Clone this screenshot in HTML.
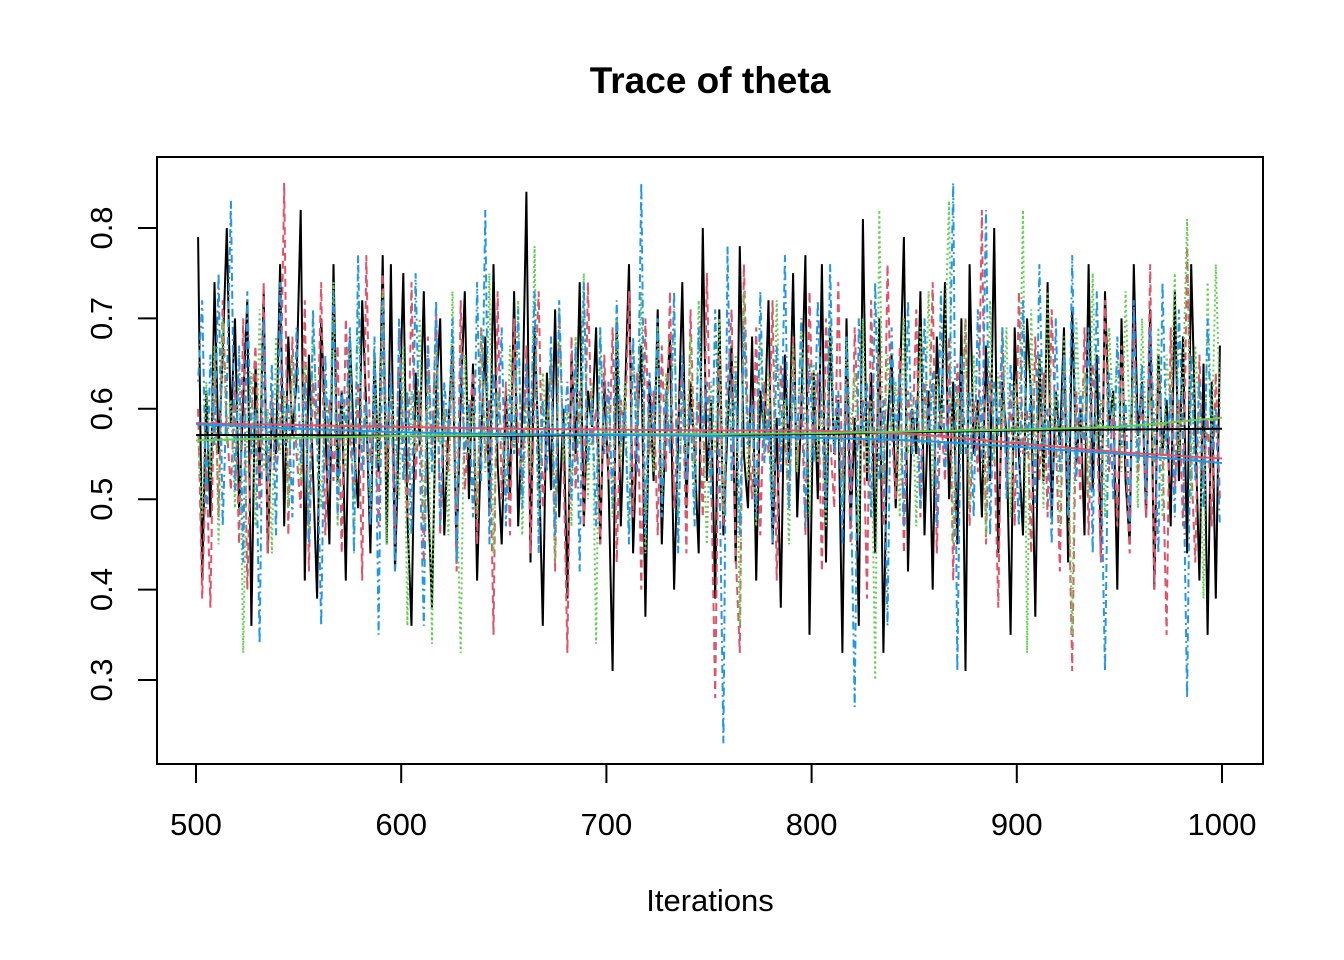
<!DOCTYPE html>
<html><head><meta charset="utf-8"><style>
html,body{margin:0;padding:0;background:#fff;}
svg{display:block;font-family:"Liberation Sans",Arial,sans-serif;}
</style></head><body>
<svg id="chart" width="1344" height="960" viewBox="0 0 1344 960" xmlns="http://www.w3.org/2000/svg">
<rect width="1344" height="960" fill="#fff"/>
<text x="710" y="93" text-anchor="middle" font-size="37" font-weight="bold">Trace of theta</text>
<text x="710" y="911" text-anchor="middle" font-size="31">Iterations</text>
<g id="marks"></g>
<g id="axes"></g>
<rect x="157" y="157" width="1106" height="607" fill="none" stroke="#000" stroke-width="2"/>
</svg>
<script>
const chainBlack=[.79,.41,.62,.48,.74,.55,.66,.80,.58,.70,.49,.61,.72,.36,.65,.52,.73,.44,.60,.55,.76,.47,.68,.57,.63,
.82,.41,.66,.53,.39,.70,.58,.45,.76,.52,.62,.41,.68,.56,.49,.72,.60,.44,.66,.53,.77,.45,.76,.42,.58,
.75,.48,.36,.64,.56,.73,.51,.38,.62,.70,.46,.58,.67,.44,.61,.73,.50,.65,.41,.57,.68,.49,.76,.54,.45,
.62,.50,.73,.47,.59,.84,.43,.69,.55,.36,.64,.51,.71,.48,.60,.39,.66,.55,.74,.47,.62,.58,.69,.45,.63,
.52,.31,.70,.47,.61,.76,.44,.58,.67,.37,.63,.52,.71,.45,.60,.68,.40,.57,.74,.49,.63,.55,.44,.80,.52,
.61,.39,.71,.46,.58,.67,.43,.78,.55,.49,.68,.41,.62,.57,.72,.45,.59,.38,.66,.54,.75,.48,.60,.77,.35,
.64,.50,.76,.43,.69,.55,.61,.33,.70,.47,.59,.36,.81,.52,.64,.44,.70,.33,.58,.66,.49,.62,.79,.42,.60,
.55,.73,.46,.62,.40,.68,.57,.74,.50,.63,.45,.70,.31,.76,.55,.61,.48,.67,.52,.80,.44,.63,.57,.35,.69,
.55,.46,.70,.61,.37,.66,.52,.74,.48,.62,.56,.69,.43,.71,.54,.60,.46,.76,.51,.66,.44,.73,.58,.62,.40,
.70,.52,.45,.76,.57,.63,.48,.71,.40,.66,.55,.61,.47,.73,.52,.68,.44,.76,.58,.41,.65,.35,.63,.39,.67];
const chainRed=[.60,.39,.55,.38,.66,.48,.72,.58,.51,.63,.45,.70,.40,.59,.67,.49,.74,.44,.62,.53,.57,.85,.46,.68,.55,
.49,.72,.42,.63,.56,.74,.46,.61,.52,.67,.44,.70,.57,.50,.63,.41,.77,.54,.60,.47,.75,.53,.64,.45,.69,
.57,.48,.74,.52,.62,.43,.68,.55,.71,.46,.60,.53,.66,.42,.72,.51,.58,.64,.45,.69,.54,.61,.35,.73,.50,
.63,.46,.70,.56,.52,.67,.44,.62,.73,.49,.58,.65,.42,.71,.55,.33,.68,.51,.62,.47,.74,.56,.60,.45,.66,
.52,.69,.43,.61,.57,.73,.48,.64,.40,.70,.55,.62,.46,.67,.53,.73,.49,.59,.65,.44,.71,.54,.61,.48,.75,
.53,.28,.66,.47,.62,.71,.44,.33,.76,.58,.50,.69,.46,.63,.55,.72,.41,.65,.57,.49,.68,.53,.62,.46,.73,
.55,.64,.42,.70,.57,.49,.74,.52,.63,.45,.69,.56,.61,.39,.72,.53,.66,.47,.76,.58,.50,.67,.44,.62,.55,
.71,.48,.63,.56,.74,.44,.60,.52,.68,.41,.65,.57,.70,.47,.61,.53,.82,.45,.64,.56,.38,.69,.51,.62,.47,
.73,.55,.60,.44,.68,.52,.64,.48,.71,.57,.42,.66,.54,.31,.62,.50,.69,.46,.65,.58,.43,.72,.53,.60,.47,
.67,.55,.44,.71,.52,.62,.48,.76,.40,.64,.56,.35,.69,.51,.61,.47,.78,.54,.43,.66,.52,.59,.47,.64,.50];
const chainGreen=[.57,.48,.63,.52,.67,.45,.70,.56,.61,.49,.66,.33,.58,.64,.47,.71,.53,.60,.44,.68,.55,.62,.49,.66,.57,
.52,.65,.46,.70,.58,.49,.63,.55,.74,.47,.61,.53,.68,.44,.72,.56,.60,.48,.66,.54,.73,.45,.63,.57,.50,
.67,.36,.62,.55,.70,.47,.64,.34,.68,.56,.60,.46,.73,.52,.33,.66,.55,.61,.48,.69,.53,.75,.44,.62,.57,
.50,.67,.55,.72,.46,.61,.53,.78,.48,.64,.57,.66,.43,.71,.54,.60,.47,.68,.56,.75,.50,.63,.34,.69,.55,
.61,.48,.70,.54,.63,.46,.67,.57,.73,.44,.60,.53,.69,.50,.64,.56,.71,.47,.62,.55,.68,.49,.72,.58,.45,
.63,.55,.70,.48,.61,.57,.66,.36,.73,.52,.60,.47,.68,.55,.64,.49,.72,.56,.61,.45,.67,.53,.70,.58,.48,
.65,.54,.62,.47,.71,.55,.60,.49,.68,.57,.64,.46,.70,.53,.61,.30,.82,.52,.66,.57,.63,.48,.70,.55,.62,
.47,.69,.56,.73,.51,.64,.58,.68,.83,.45,.62,.55,.70,.49,.66,.57,.61,.46,.72,.54,.64,.58,.69,.48,.63,
.56,.82,.33,.71,.54,.66,.49,.73,.58,.62,.47,.68,.55,.35,.70,.57,.64,.50,.75,.56,.61,.48,.69,.59,.66,
.53,.73,.58,.64,.49,.70,.57,.62,.54,.69,.48,.66,.59,.75,.55,.63,.81,.50,.67,.58,.39,.74,.56,.76,.60];
const chainBlue=[.63,.72,.49,.66,.56,.75,.47,.62,.83,.51,.67,.43,.73,.55,.60,.34,.70,.52,.65,.46,.74,.56,.61,.48,.69,
.54,.63,.45,.71,.57,.36,.66,.52,.73,.48,.62,.58,.69,.44,.77,.53,.61,.47,.68,.35,.72,.56,.64,.42,.70,
.52,.62,.46,.75,.55,.36,.67,.53,.72,.47,.63,.57,.70,.43,.66,.55,.61,.48,.74,.52,.82,.45,.64,.56,.69,
.47,.62,.55,.71,.49,.65,.58,.73,.44,.61,.53,.68,.46,.72,.56,.63,.50,.67,.42,.74,.54,.61,.47,.69,.55,
.63,.49,.72,.56,.60,.45,.68,.53,.85,.46,.64,.57,.70,.48,.62,.55,.73,.44,.66,.52,.60,.47,.69,.57,.63,
.50,.71,.55,.23,.78,.52,.64,.46,.69,.56,.61,.48,.73,.54,.60,.45,.67,.53,.77,.49,.63,.56,.70,.47,.65,
.54,.72,.58,.49,.76,.55,.62,.45,.68,.53,.27,.70,.57,.63,.48,.74,.52,.61,.36,.69,.56,.64,.47,.72,.55,
.61,.49,.70,.56,.64,.47,.73,.53,.60,.85,.31,.66,.55,.62,.48,.71,.54,.82,.46,.63,.57,.69,.50,.65,.58,
.47,.72,.55,.63,.49,.76,.56,.60,.45,.70,.53,.66,.48,.77,.52,.62,.56,.69,.44,.73,.55,.31,.64,.50,.68,
.56,.61,.47,.72,.54,.65,.50,.69,.58,.44,.74,.55,.62,.48,.71,.57,.28,.66,.52,.63,.49,.70,.55,.60,.47];
const iterStart=501, iterStep=2;
const smoothIters=[500,550,600,650,700,750,800,850,900,950,1000];
const smoothBlack=[.571,.571,.570,.570,.571,.571,.572,.574,.576,.577,.578];
const smoothRed=[.584,.582,.580,.578,.577,.576,.576,.572,.562,.552,.545];
const smoothGreen=[.565,.568,.570,.571,.572,.572,.573,.575,.577,.580,.590];
const smoothBlue=[.583,.578,.574,.572,.571,.570,.568,.565,.558,.550,.540];
const xTicks=[500,600,700,800,900,1000];
const yTicks=[0.3,0.4,0.5,0.6,0.7,0.8];

const NS="http://www.w3.org/2000/svg";
const xs=v=>196+(v-500)*(1222-196)/500;
const ys=v=>680-(v-0.3)*(680-228)/0.5;
const marks=document.getElementById('marks');
const axes=document.getElementById('axes');
function mk(tag,attrs,parent){const e=document.createElementNS(NS,tag);for(const k in attrs)e.setAttribute(k,attrs[k]);parent.appendChild(e);return e;}
const series=[
 {v:chainBlack,s:smoothBlack,c:"#000000",d:"",n:"chain-1"},
 {v:chainRed,s:smoothRed,c:"#DF536B",d:"8,5",n:"chain-2"},
 {v:chainGreen,s:smoothGreen,c:"#61D04F",d:"2,3",n:"chain-3"},
 {v:chainBlue,s:smoothBlue,c:"#2297E6",d:"2,4,8,4",n:"chain-4"}];
series.forEach(sr=>{
  const pts=sr.v.map((v,i)=>xs(iterStart+i*iterStep).toFixed(1)+","+ys(v).toFixed(1)).join(" ");
  const pl=mk('polyline',{points:pts,fill:"none",stroke:sr.c,"stroke-width":2,"stroke-dasharray":sr.d||"none"},marks);
  
  
});
series.forEach(sr=>{
  const pts=sr.s.map((v,i)=>xs(smoothIters[i]).toFixed(1)+","+ys(v).toFixed(1)).join(" ");
  const pl=mk('polyline',{points:pts,fill:"none",stroke:sr.c,"stroke-width":2},marks);
  
  
});
mk('line',{x1:xs(xTicks[0]),x2:xs(xTicks[xTicks.length-1]),y1:764,y2:764,stroke:"#000","stroke-width":2},axes);
xTicks.forEach(t=>{
  const l=mk('line',{x1:xs(t),x2:xs(t),y1:764,y2:783,stroke:"#000","stroke-width":2},axes);
  
  
  const tx=mk('text',{x:xs(t),y:835,"text-anchor":"middle","font-size":31},axes);
  tx.textContent=t;
  
  
});
yTicks.forEach(t=>{
  const l=mk('line',{x1:138,x2:157,y1:ys(t),y2:ys(t),stroke:"#000","stroke-width":2},axes);
  
  
  const tx=mk('text',{x:0,y:0,"text-anchor":"middle","font-size":31,transform:`translate(112,${ys(t)}) rotate(-90)`},axes);
  tx.textContent=t.toFixed(1);
  
  
});
</script>
</body></html>
